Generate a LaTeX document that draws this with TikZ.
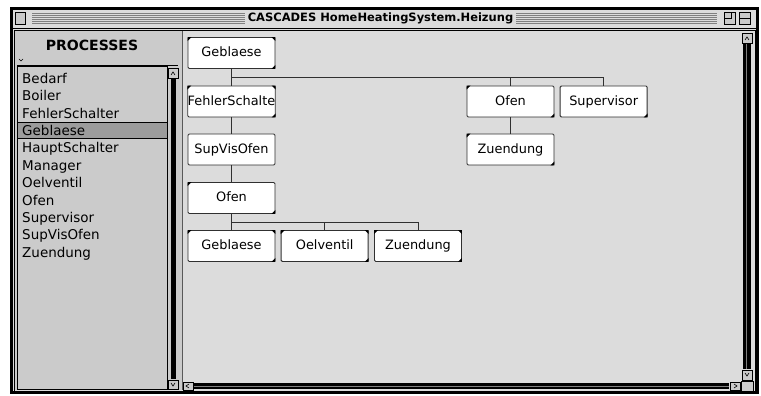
\documentclass[tikz,border=0pt]{standalone}
\usepackage{fontspec}
\setmainfont{DejaVu Sans}
\usepackage{tikz}

\definecolor{winbg}{HTML}{DCDCDC}
\definecolor{panelbg}{HTML}{CBCBCB}
\definecolor{selbg}{HTML}{9C9C9C}
\definecolor{boxline}{HTML}{303030}

\begin{document}
\begin{tikzpicture}[x=0.3mm,y=-0.3mm,
  proc/.style={draw=boxline,fill=white,line width=0.8pt,rounded corners=1pt,minimum width=26.1mm,
    minimum height=9.3mm,inner sep=0pt,text height=8.5pt,text depth=2.5pt,
    font=\fontsize{11}{13}\selectfont},
  link/.style={draw=boxline,line width=0.85pt},
  item/.style={anchor=base west,inner sep=0pt,font=\fontsize{11.5}{13}\selectfont},
  btn/.style={draw=black,fill=panelbg,line width=0.5pt},
  bar/.style={fill=black}]
\useasboundingbox[fill=white] (0,0) rectangle (761,396);
% window frame and title bar
\fill[black] (10,7) rectangle (759,394);
\fill[winbg] (13,10) rectangle (756,391);
\draw[line width=0.8pt] (13,28) -- (756,28);
\foreach \y in {13,15,...,23} {
  \draw[gray,line width=0.4pt] (32,\y) -- (245,\y);
  \draw[gray,line width=0.4pt] (516,\y) -- (717,\y);
}
\draw[btn] (15,12) rectangle (25,24);
\draw[btn] (724,12) rectangle (735,24);
\draw[line width=0.5pt] (724,18) -- (731,18) -- (731,12);
\draw[btn] (739,12) rectangle (750,24);
\draw[line width=0.5pt] (739,18) -- (750,18);
\node[font=\bfseries\fontsize{9.8}{11}\selectfont] (title) at (380.5,18.5) {CASCADES HomeHeatingSystem.Heizung};
% panels
\draw[line width=0.8pt] (14,30) rectangle (755,391);
\fill[panelbg] (15,31) rectangle (182,390);
\fill[winbg] (183,31) rectangle (741,381);
\draw[gray!70!black,line width=0.6pt] (182.5,31) -- (182.5,390);
% process list
\node[font=\bfseries\fontsize{12}{14}\selectfont] (head) at (92,45) {PROCESSES};
\draw[line width=0.5pt] (19,59) -- (21,61) -- (23,59);
\draw[line width=0.8pt] (17,65.5) -- (178,65.5);
\draw[line width=0.6pt] (17,66) rectangle (167,389);
\fill[selbg,draw=black,line width=0.6pt] (17,122.7) rectangle (167,138.7);
\foreach \name [count=\i from 0] in {Bedarf,Boiler,FehlerSchalter,Geblaese,HauptSchalter,Manager,Oelventil,Ofen,Supervisor,SupVisOfen,Zuendung}
  \node[item] (p\i) at (22,{83.3+17.4*\i}) {\name};
% list scrollbar
\draw[btn] (168,68) rectangle (178,78);
\draw[line width=0.5pt] (171,75) -- (173,72) -- (175,75);
\fill[bar] (170.5,79) rectangle (176,379);
\draw[btn] (168,380) rectangle (178,389);
\draw[line width=0.5pt] (171,383) -- (173,386) -- (175,383);
% right scrollbar
\draw[btn] (742,33) rectangle (752,43);
\draw[line width=0.5pt] (745,40) -- (747,37) -- (749,40);
\fill[bar] (743,44) rectangle (750.5,369);
\draw[gray,line width=0.6pt] (746.8,44) -- (746.8,369);
\draw[btn] (742,370) rectangle (752,380);
\draw[line width=0.5pt] (745,373) -- (747,376) -- (749,373);
\draw[btn] (741,381) rectangle (753,391);
% bottom scrollbar
\draw[btn] (183,382) rectangle (193,390);
\draw[line width=0.5pt] (189,384) -- (186,386) -- (189,388);
\fill[bar] (194,383) rectangle (729,389.5);
\draw[gray,line width=0.6pt] (194,386.2) -- (729,386.2);
\draw[btn] (730,382) rectangle (740,390);
\draw[line width=0.5pt] (734,384) -- (737,386) -- (734,388);
% process tree
\node[proc] (g1) at (231.5,53) {Geblaese};
\node[proc] (fs) at (231.5,101.5) {FehlerSchalte};
\node[proc] (sv) at (231.5,149.5) {SupVisOfen};
\node[proc] (of1) at (231.5,198) {Ofen};
\node[proc] (g2) at (231.5,246) {Geblaese};
\node[proc] (oe) at (324.7,246) {Oelventil};
\node[proc] (zu1) at (418,246) {Zuendung};
\node[proc] (of2) at (510.5,101.5) {Ofen};
\node[proc] (su) at (603.7,101.5) {Supervisor};
\node[proc] (zu2) at (510.5,149.5) {Zuendung};
\coordinate (bus1) at (0,77.3);
\coordinate (bus2) at (0,222.3);
\draw[link] (g1) -- (fs);
\draw[link] (g1.south |- bus1) -| (su.north);
\draw[link] (of2.north |- bus1) -- (of2.north);
\draw[link] (of2) -- (zu2);
\draw[link] (fs) -- (sv);
\draw[link] (sv) -- (of1);
\draw[link] (of1) -- (g2);
\draw[link] (g2.north |- bus2) -| (zu1.north);
\draw[link] (oe.north |- bus2) -- (oe.north);
% corner marks
\foreach \n in {g1,fs,of1,g2,oe,zu1,of2,zu2}
  \fill (\n.north west) -- ++(4,0) -- ++(-4,4) -- cycle;
\foreach \n in {g1,fs,g2,oe,zu1}
  \fill (\n.north east) -- ++(-4,0) -- ++(4,4) -- cycle;
\foreach \n in {g1,fs,of1,g2,oe,zu1,of2,su,zu2}
  \fill (\n.south east) -- ++(-4,0) -- ++(4,-4) -- cycle;
\end{tikzpicture}
\end{document}
